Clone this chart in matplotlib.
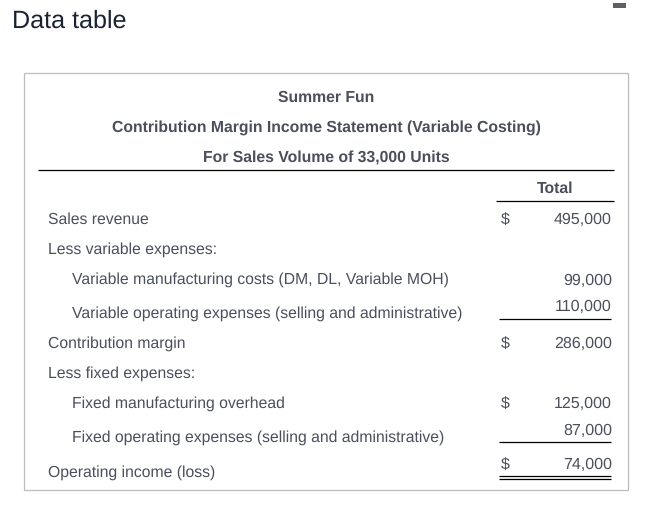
import matplotlib
matplotlib.use("Agg")
import matplotlib.pyplot as plt
from matplotlib.patches import Rectangle

plt.rcParams['font.family'] = ['Liberation Sans', 'DejaVu Sans']
plt.rcParams['text.hinting'] = 'no_hinting'

# Table content
headings = ["Summer Fun",
            "Contribution Margin Income Statement (Variable Costing)",
            "For Sales Volume of 33,000 Units"]
column_name = "Total"
row_labels = ["Sales revenue",
              "Less variable expenses:",
              "Variable manufacturing costs (DM, DL, Variable MOH)",
              "Variable operating expenses (selling and administrative)",
              "Contribution margin",
              "Less fixed expenses:",
              "Fixed manufacturing overhead",
              "Fixed operating expenses (selling and administrative)",
              "Operating income (loss)"]
row_amounts = ["495,000", "", "99,000", "110,000", "286,000", "", "125,000", "87,000", "74,000"]
row_dollar = [True, False, False, False, True, False, True, False, True]
row_indent = [False, False, True, True, False, False, True, True, False]

# Layout, in image pixels
heading_y = [97.5, 128, 158]
label_y = [220, 250, 280, 314, 344, 374, 404, 438, 473]
amount_y = [220, 250, 281, 307, 344, 374, 404, 431, 465]

text_color = "#4b4f5c"
fig = plt.figure(figsize=(6.5, 5.26), dpi=100)
ax = fig.add_axes([0, 0, 1, 1])
ax.set_xlim(0, 650)
ax.set_ylim(526, 0)
ax.axis('off')

ax.text(12, 21.5, "Data table", fontsize=18.1, color="#1a2233", va='center', ha='left')

# Close button dash in the corner
ax.add_patch(Rectangle((613, 3), 13, 4.5, facecolor="#5f6066", edgecolor='none'))

# Outer frame
ax.add_patch(Rectangle((23.5, 73), 604, 417, facecolor='white', edgecolor="#bdbdbd", linewidth=0.9))

for text, y in zip(headings, heading_y):
    ax.text(326, y, text, fontsize=11.3, fontweight='bold', color=text_color, va='center', ha='center')

ax.text(555.5, 188.5, column_name, fontsize=11.3, fontweight='bold', color=text_color, va='center', ha='center')

for label, amount, dollar, indent, ly, ay in zip(row_labels, row_amounts, row_dollar, row_indent, label_y, amount_y):
    x = 72 if indent else 48
    ax.text(x, ly, label, fontsize=11.3, color=text_color, va='center', ha='left')
    ax.text(612, ay, amount, fontsize=11.5, color=text_color, va='center', ha='right')
    if dollar:
        ax.text(501, ay, "$", fontsize=11.5, color=text_color, va='center', ha='left')

# Rules under the headings and subtotals
rules = [(38, 614, 170), (496, 614, 201), (499, 611, 319), (499, 611, 442),
         (499, 611, 476), (499, 611, 479)]
for x0, x1, y in rules:
    ax.plot([x0, x1], [y, y], color='black', linewidth=0.9, solid_capstyle='butt')

fig.savefig("out.png", dpi=100)
